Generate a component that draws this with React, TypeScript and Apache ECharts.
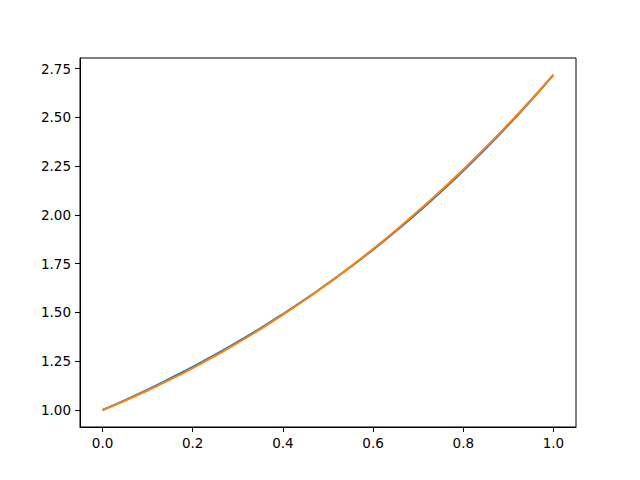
import { useEffect, useRef } from "react";
import * as echarts from "echarts";

const xValues = [0, 0.05, 0.1, 0.15, 0.2, 0.25, 0.3, 0.35, 0.4, 0.45, 0.5, 0.55, 0.6, 0.65, 0.7, 0.75, 0.8, 0.85, 0.9, 0.95, 1.0];
const blueValues = [1.0, 1.051, 1.105, 1.162, 1.221, 1.284, 1.35, 1.419, 1.492, 1.568, 1.649, 1.733, 1.822, 1.916, 2.014, 2.117, 2.226, 2.34, 2.46, 2.586, 2.718];
const orangeValues = [1.0, 1.0485, 1.1005, 1.156, 1.215, 1.278, 1.3445, 1.4145, 1.4885, 1.5665, 1.649, 1.735, 1.8255, 1.9205, 2.02, 2.124, 2.233, 2.3465, 2.4655, 2.589, 2.718];
const xTicks = [0, 0.2, 0.4, 0.6, 0.8, 1.0];
const yTicks = [1.0, 1.25, 1.5, 1.75, 2.0, 2.25, 2.5, 2.75];

const FONT = "'DejaVu Sans', sans-serif";

export default function App() {
  const containerRef = useRef<HTMLDivElement | null>(null);

  useEffect(() => {
    if (!containerRef.current) {
      return;
    }

    const chart = echarts.init(containerRef.current, undefined, { renderer: "svg" });

    const axisCommon = {
      axisLine: { show: true, onZero: false, lineStyle: { color: "#000", width: 1 } },
      axisTick: { show: true, length: 5, lineStyle: { color: "#000", width: 1 } },
      splitLine: { show: false },
    };

    const option: echarts.EChartsOption = {
      animation: false,
      backgroundColor: "#ffffff",
      grid: {
        left: 80,
        right: 64,
        top: 58,
        bottom: 53,
        show: true,
        borderColor: "#000",
        borderWidth: 1,
        backgroundColor: "transparent",
      },
      xAxis: {
        type: "value",
        min: -0.05,
        max: 1.05,
        ...axisCommon,
        axisTick: { ...axisCommon.axisTick, customValues: xTicks },
        axisLabel: {
          customValues: xTicks,
          formatter: (value: number) => value.toFixed(1),
          color: "#000",
          fontSize: 13.5,
          fontFamily: FONT,
          margin: 9,
        },
      },
      yAxis: {
        type: "value",
        min: 0.913,
        max: 2.804,
        ...axisCommon,
        axisTick: { ...axisCommon.axisTick, customValues: yTicks },
        axisLabel: {
          customValues: yTicks,
          formatter: (value: number) => value.toFixed(2),
          color: "#000",
          fontSize: 13.5,
          fontFamily: FONT,
          margin: 9,
        },
      },
      series: [
        {
          type: "line",
          data: xValues.map((x, i) => [x, blueValues[i]]),
          showSymbol: false,
          smooth: true,
          lineStyle: { color: "#1f77b4", width: 2 },
          itemStyle: { color: "#1f77b4" },
        },
        {
          type: "line",
          data: xValues.map((x, i) => [x, orangeValues[i]]),
          showSymbol: false,
          smooth: true,
          lineStyle: { color: "#ff7f0e", width: 2 },
          itemStyle: { color: "#ff7f0e" },
        },
      ],
    };

    chart.setOption(option);

    return () => {
      chart.dispose();
    };
  }, []);

  return (
    <div
      ref={containerRef}
      style={{ position: "fixed", left: 0, top: 0, width: 640, height: 480 }}
    />
  );
}
